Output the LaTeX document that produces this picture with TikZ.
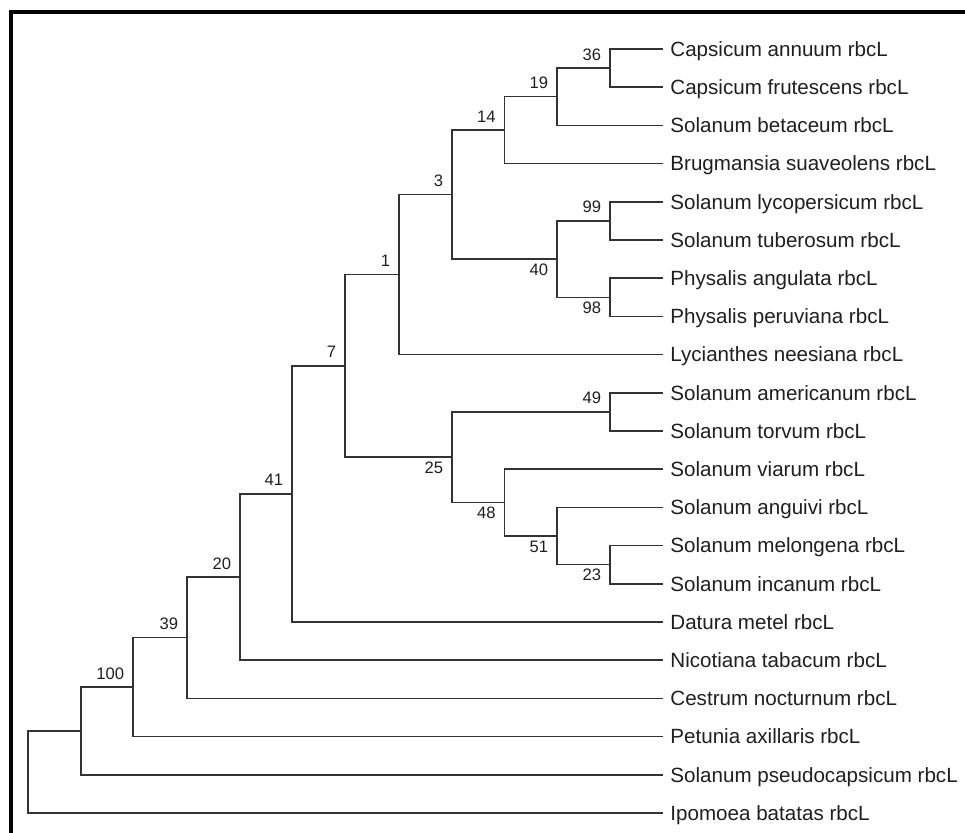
\documentclass[tikz,border=0pt]{standalone}
\usepackage{fontspec}
\setmainfont{Liberation Sans}
\usepackage{tikz}

\tikzset{
  branch/.style={draw=black!80,line width=0.75pt},
  leaf/.style={anchor=west,inner xsep=3.5pt,inner ysep=0pt,text height=7.4pt,text depth=0pt,text=black!88,font=\fontsize{10.3pt}{12pt}\selectfont},
  bsup/.style={anchor=base east,inner sep=0pt,xshift=-4.3pt,yshift=4pt,text=black!88,font=\fontsize{8.3pt}{10pt}\selectfont},
  bsdown/.style={bsup,yshift=-12pt}
}

\begin{document}
\begin{tikzpicture}[x=0.5pt,y=-0.5pt]
  \useasboundingbox (0,0) rectangle (965,833);

  % frame
  \draw[line width=2pt] (10.5,850) |- (980,12);

  % taxa
  \node at (663,49) [leaf] (capann) {Capsicum annuum rbcL};
  \node at (663,87.2) [leaf] (capfru) {Capsicum frutescens rbcL};
  \node at (663,125.4) [leaf] (solbet) {Solanum betaceum rbcL};
  \node at (663,163.6) [leaf] (brusua) {Brugmansia suaveolens rbcL};
  \node at (663,201.8) [leaf] (sollyc) {Solanum lycopersicum rbcL};
  \node at (663,240) [leaf] (soltub) {Solanum tuberosum rbcL};
  \node at (663,278.2) [leaf] (phyang) {Physalis angulata rbcL};
  \node at (663,316.4) [leaf] (phyper) {Physalis peruviana rbcL};
  \node at (663,354.6) [leaf] (lycnee) {Lycianthes neesiana rbcL};
  \node at (663,392.8) [leaf] (solame) {Solanum americanum rbcL};
  \node at (663,431) [leaf] (soltor) {Solanum torvum rbcL};
  \node at (663,469.2) [leaf] (solvia) {Solanum viarum rbcL};
  \node at (663,507.4) [leaf] (solang) {Solanum anguivi rbcL};
  \node at (663,545.6) [leaf] (solmel) {Solanum melongena rbcL};
  \node at (663,583.8) [leaf] (solinc) {Solanum incanum rbcL};
  \node at (663,622) [leaf] (datmet) {Datura metel rbcL};
  \node at (663,660.2) [leaf] (nictab) {Nicotiana tabacum rbcL};
  \node at (663,698.4) [leaf] (cesnoc) {Cestrum nocturnum rbcL};
  \node at (663,736.6) [leaf] (petaxi) {Petunia axillaris rbcL};
  \node at (663,774.8) [leaf] (solpse) {Solanum pseudocapsicum rbcL};
  \node at (663,813) [leaf] (ipobat) {Ipomoea batatas rbcL};

  % inner nodes
  \coordinate (n36) at (610,68.1);
  \coordinate (n19) at (557,96.75);
  \coordinate (n14) at (504.5,130.2);
  \coordinate (n99) at (610,220.9);
  \coordinate (n98) at (610,297.3);
  \coordinate (n40) at (557,259.1);
  \coordinate (n3) at (452,194.6);
  \coordinate (n1) at (399,274.6);
  \coordinate (n49) at (610,411.9);
  \coordinate (n23) at (610,564.7);
  \coordinate (n51) at (557,536.05);
  \coordinate (n48) at (504.5,502.6);
  \coordinate (n25) at (452,457.25);
  \coordinate (n7) at (345,365.9);
  \coordinate (n41) at (292,493.95);
  \coordinate (n20) at (240,577.1);
  \coordinate (n39) at (187,637.75);
  \coordinate (n100) at (133,687.2);
  \coordinate (n0) at (81,731);
  \coordinate (root) at (28,772);

  % branches
  \draw[branch] (capann.west) -| (n36) |- (capfru.west);
  \draw[branch] (n36) -| (n19) |- (solbet.west);
  \draw[branch] (n19) -| (n14) |- (brusua.west);
  \draw[branch] (sollyc.west) -| (n99) |- (soltub.west);
  \draw[branch] (phyang.west) -| (n98) |- (phyper.west);
  \draw[branch] (n99) -| (n40) |- (n98);
  \draw[branch] (n14) -| (n3) |- (n40);
  \draw[branch] (n3) -| (n1) |- (lycnee.west);
  \draw[branch] (solame.west) -| (n49) |- (soltor.west);
  \draw[branch] (solmel.west) -| (n23) |- (solinc.west);
  \draw[branch] (solang.west) -| (n51) |- (n23);
  \draw[branch] (solvia.west) -| (n48) |- (n51);
  \draw[branch] (n49) -| (n25) |- (n48);
  \draw[branch] (n1) -| (n7) |- (n25);
  \draw[branch] (n7) -| (n41) |- (datmet.west);
  \draw[branch] (n41) -| (n20) |- (nictab.west);
  \draw[branch] (n20) -| (n39) |- (cesnoc.west);
  \draw[branch] (n39) -| (n100) |- (petaxi.west);
  \draw[branch] (n100) -| (n0) |- (solpse.west);
  \draw[branch] (n0) -| (root) |- (ipobat.west);

  % bootstrap values
  \node at (n36) [bsup] (b36) {36};
  \node at (n19) [bsup] (b19) {19};
  \node at (n14) [bsup] (b14) {14};
  \node at (n3) [bsup] (b3) {3};
  \node at (n99) [bsup] (b99) {99};
  \node at (n40) [bsdown] (b40) {40};
  \node at (n98) [bsdown] (b98) {98};
  \node at (n1) [bsup] (b1) {1};
  \node at (n49) [bsup] (b49) {49};
  \node at (n25) [bsdown] (b25) {25};
  \node at (n48) [bsdown] (b48) {48};
  \node at (n51) [bsdown] (b51) {51};
  \node at (n23) [bsdown] (b23) {23};
  \node at (n7) [bsup] (b7) {7};
  \node at (n41) [bsup] (b41) {41};
  \node at (n20) [bsup] (b20) {20};
  \node at (n39) [bsup] (b39) {39};
  \node at (n100) [bsup] (b100) {100};
\end{tikzpicture}
\end{document}
